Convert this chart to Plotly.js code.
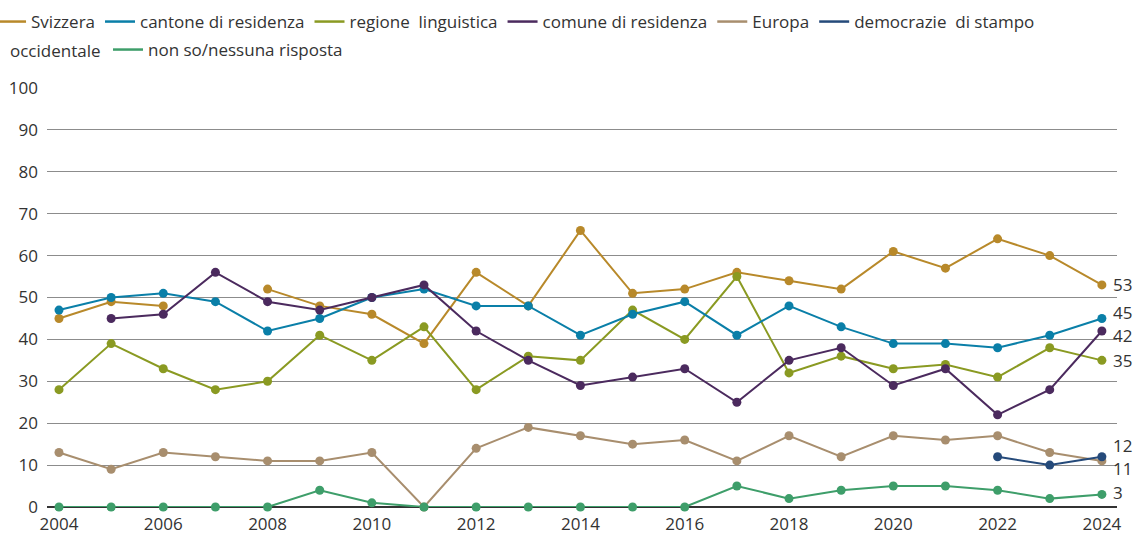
<!DOCTYPE html>
<html>
<head>
<meta charset="utf-8">
<script src="https://cdn.plot.ly/plotly-3.0.1.min.js"></script>
<style>html,body{margin:0;padding:0;background:#fff;}#chart{width:1135px;height:535px;}</style>
</head>
<body>
<div id="chart"></div>
<script>
const years = [2004,2005,2006,2007,2008,2009,2010,2011,2012,2013,2014,2015,2016,2017,2018,2019,2020,2021,2022,2023,2024];
const svizzera   = [45,49,48,null,52,48,46,39,56,48,66,51,52,56,54,52,61,57,64,60,53];
const cantone    = [47,50,51,49,42,45,50,52,48,48,41,46,49,41,48,43,39,39,38,41,45];
const regione    = [28,39,33,28,30,41,35,43,28,36,35,47,40,55,32,36,33,34,31,38,35];
const comune     = [null,45,46,56,49,47,50,53,42,35,29,31,33,25,35,38,29,33,22,28,42];
const europa     = [13,9,13,12,11,11,13,0,14,19,17,15,16,11,17,12,17,16,17,13,11];
const democrazie = [null,null,null,null,null,null,null,null,null,null,null,null,null,null,null,null,null,null,12,10,12];
const nonso      = [0,0,0,0,0,4,1,0,0,0,0,0,0,5,2,4,5,5,4,2,3];
const names = ["Svizzera","cantone di residenza","regione  linguistica","comune di residenza","Europa","democrazie  di stampo","non so/nessuna risposta"];
const wrapText = "occidentale";
const yTicks = [0,10,20,30,40,50,60,70,80,90,100];
const xTicks = [2004,2006,2008,2010,2012,2014,2016,2018,2020,2022,2024];

const colors = ["#b8892a","#0a7fa8","#8a9a22","#4b2a5e","#a88e6e","#254a7a","#3e9e6a"];
const series = [svizzera,cantone,regione,comune,europa,democrazie,nonso];
const drawOrder = [0,2,1,3,4,6,5];
const traces = drawOrder.map(i => ({
  type:'scatter', mode:'lines+markers', x: years, y: series[i], name: names[i],
  line:{color:colors[i], width:2}, marker:{color:colors[i], size:9},
  connectgaps:false, cliponaxis:false, showlegend:false, hoverinfo:'skip'
}));
// legend entries (line symbol only, like the reference)
names.forEach((n,i) => traces.push({
  type:'scatter', mode:'lines', x:[null], y:[null], name:n,
  line:{color:colors[i], width:2.5}, legendrank:i+1, hoverinfo:'skip',
  legend: i === 6 ? 'legend2' : 'legend'
}));

// end-of-line labels (value of last point), with small vertical offsets to avoid overlap
const labelShift = [0, 6, 0, -4, -8, 11, 2];
const annotations = series.map((s,i) => ({
  x: years[years.length-1], y: s[s.length-1], xref:'x', yref:'y',
  text: String(s[s.length-1]), showarrow:false, xanchor:'left', yanchor:'middle',
  xshift: 9, yshift: labelShift[i], font:{family:'Open Sans, sans-serif', size:17, color:'#333'}
}));
annotations.push({
  x:-0.0346, y:1, xref:'paper', yref:'paper', text:wrapText, showarrow:false,
  xanchor:'left', yanchor:'middle', xshift:-2, yshift:38,
  font:{family:'Open Sans, sans-serif', size:17, color:'#333'}
});

const legendFont = {family:'Open Sans, sans-serif', size:17, color:'#333'};
const layout = {
  width:1135, height:535,
  margin:{l:47, r:18, t:88, b:28, autoexpand:false},
  paper_bgcolor:'#fff', plot_bgcolor:'#fff',
  font:{family:'Open Sans, sans-serif', size:17, color:'#333'},
  showlegend:true,
  legend:{orientation:'h', x:-0.0523, xanchor:'left', y:1.1575, yanchor:'middle',
    font:legendFont, traceorder:'normal', bgcolor:'rgba(0,0,0,0)'},
  legend2:{orientation:'h', x:0.057, xanchor:'left', y:1.0907, yanchor:'middle',
    font:legendFont, bgcolor:'rgba(0,0,0,0)'},
  xaxis:{range:[2003.77,2024.29], tickvals:xTicks, ticktext:xTicks.map(String), showgrid:false,
    zeroline:false, showline:false, ticks:'', ticklabelstandoff:5, tickfont:{size:17, color:'#333'}, fixedrange:true},
  yaxis:{range:[0,100], tickvals:yTicks, ticktext:yTicks.map(String), showgrid:true, gridcolor:'#8c8c8c', gridwidth:1,
    zeroline:true, zerolinecolor:'#333', zerolinewidth:2, ticks:'', ticklabelstandoff:8,
    tickfont:{size:17, color:'#333'}, fixedrange:true},
  annotations: annotations
};

Plotly.newPlot('chart', traces, layout, {displayModeBar:false, staticPlot:true});
</script>
</body>
</html>
